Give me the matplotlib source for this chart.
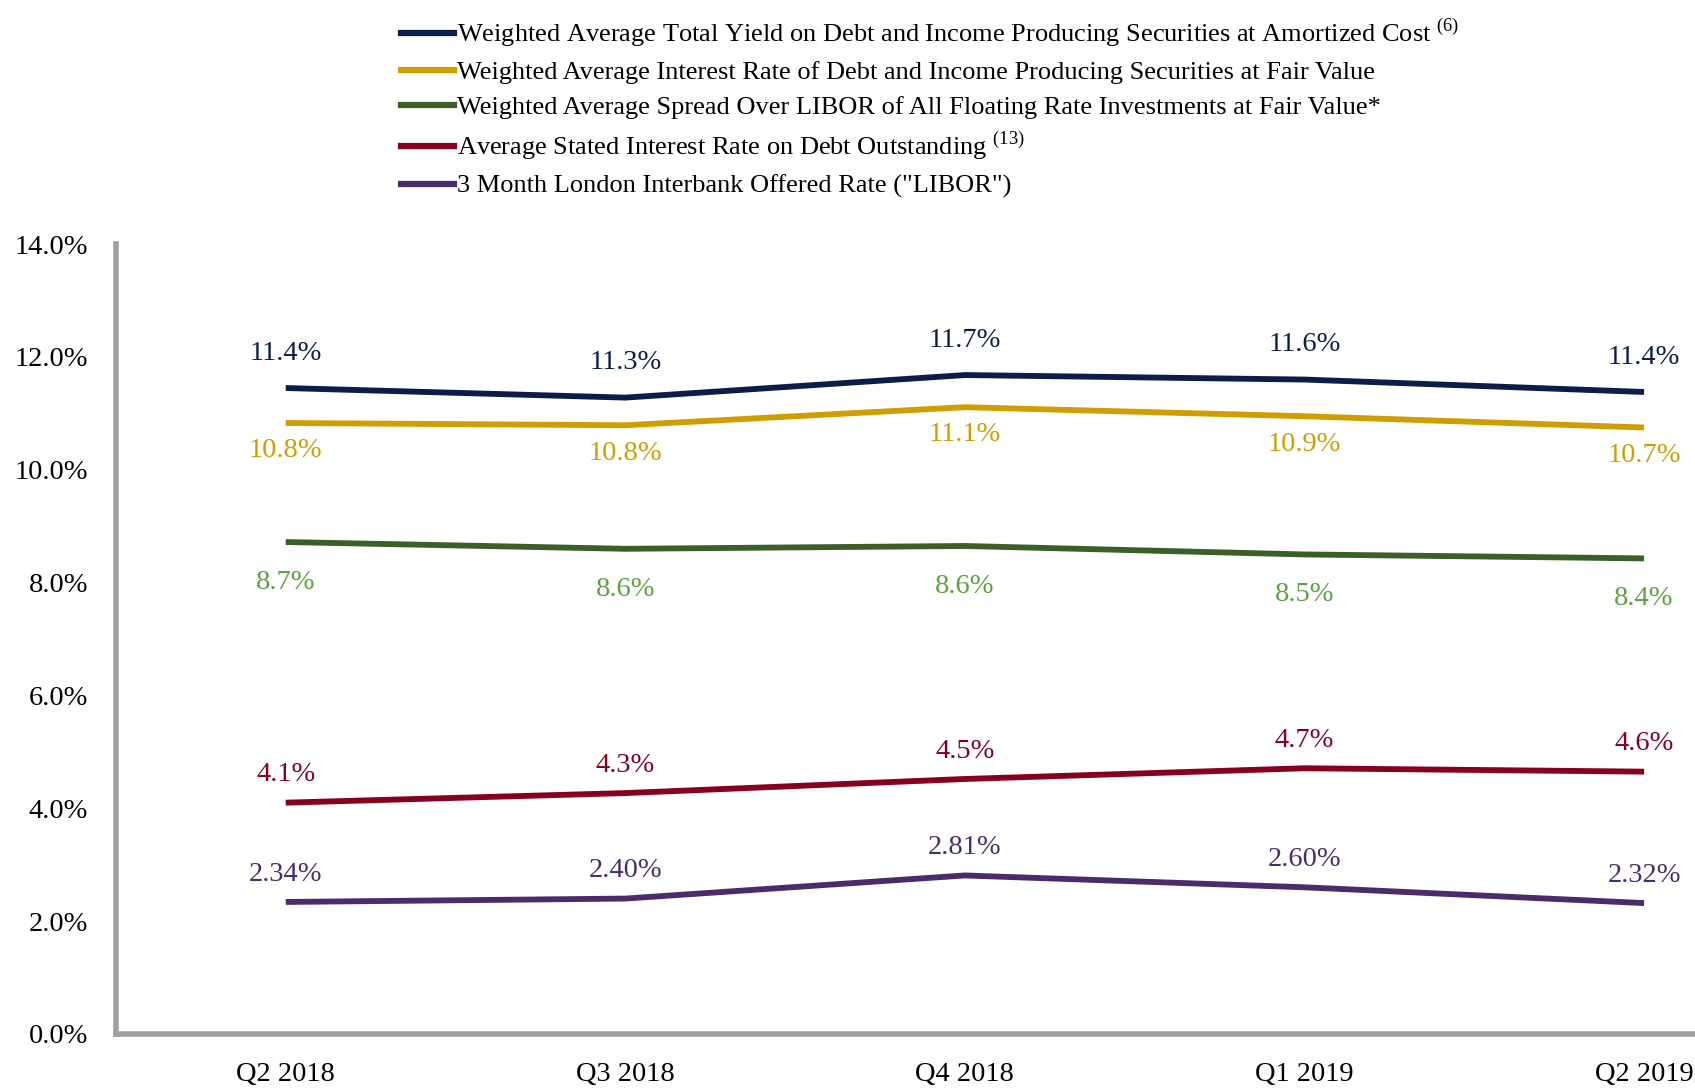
#!/usr/bin/env python3
"""Yield / rate trend chart, Q2 2018 - Q2 2019."""

import matplotlib
matplotlib.use('Agg')
import matplotlib.pyplot as plt
from matplotlib.lines import Line2D

plt.rcParams['font.family'] = ['Liberation Serif', 'DejaVu Serif']
plt.rcParams['mathtext.fontset'] = 'custom'
plt.rcParams['mathtext.rm'] = 'Liberation Serif'

# ── data ──────────────────────────────────────────────────────────────────
quarters = ['Q2 2018', 'Q3 2018', 'Q4 2018', 'Q1 2019', 'Q2 2019']

total_yield = [11.45, 11.28, 11.68, 11.60, 11.38]
fair_value_rate = [10.83, 10.79, 11.11, 10.95, 10.75]
libor_spread = [8.72, 8.60, 8.65, 8.50, 8.43]
debt_rate = [4.10, 4.27, 4.52, 4.71, 4.65]
libor = [2.34, 2.40, 2.81, 2.60, 2.32]

total_yield_lbl = ['11.4%', '11.3%', '11.7%', '11.6%', '11.4%']
fair_value_lbl = ['10.8%', '10.8%', '11.1%', '10.9%', '10.7%']
spread_lbl = ['8.7%', '8.6%', '8.6%', '8.5%', '8.4%']
debt_lbl = ['4.1%', '4.3%', '4.5%', '4.7%', '4.6%']
libor_lbl = ['2.34%', '2.40%', '2.81%', '2.60%', '2.32%']

legend_names = [
    'Weighted Average Total Yield on Debt and Income Producing Securities at Amortized Cost $^{(6)}$',
    'Weighted Average Interest Rate of Debt and Income Producing Securities at Fair Value',
    'Weighted Average Spread Over LIBOR of All Floating Rate Investments at Fair Value*',
    'Average Stated Interest Rate on Debt Outstanding $^{(13)}$',
    '3 Month London Interbank Offered Rate ("LIBOR")',
]

# line colour, label colour, label offset (pt)
SERIES = [
    (total_yield, total_yield_lbl, '#0B1D48', '#0B1D48', 25),
    (fair_value_rate, fair_value_lbl, '#D09E00', '#D09E00', -20),
    (libor_spread, spread_lbl, '#3A5F27', '#5EA142', -29),
    (debt_rate, debt_lbl, '#870020', '#870020', 20),
    (libor, libor_lbl, '#4A2C6C', '#4A2C6C', 20),
]

# ── figure ────────────────────────────────────────────────────────────────
fig = plt.figure(figsize=(16.95, 10.9), dpi=100)
ax = fig.add_axes([0.0684, 0.0514, 0.9316, 0.7246])

x = list(range(len(quarters)))
for vals, lbls, lc, tc, dy in SERIES:
    ax.plot(x, vals, color=lc, lw=4.2, solid_capstyle='butt', zorder=3)
    for xi, v, t in zip(x, vals, lbls):
        ax.annotate(t, xy=(xi, v), xytext=(0, dy), textcoords='offset points',
                    ha='center', va='center', fontsize=20.5, color=tc)

ax.set_xlim(-0.5, 4.15)
ax.set_ylim(0, 14)
ax.set_yticks([0, 2, 4, 6, 8, 10, 12, 14])
ax.set_yticklabels([f'{v:.1f}%' for v in [0, 2, 4, 6, 8, 10, 12, 14]])
ax.set_xticks(x)
ax.set_xticklabels(quarters)
ax.tick_params(axis='both', length=0, labelsize=20.5, colors='black')
ax.tick_params(axis='y', pad=20)
ax.tick_params(axis='x', pad=20)

for side in ['top', 'right']:
    ax.spines[side].set_visible(False)
for side in ['left', 'bottom']:
    ax.spines[side].set_color('#A0A0A0')
    ax.spines[side].set_linewidth(4)

handles = [Line2D([0], [0], color=s[2], lw=4.5) for s in SERIES]
fig.legend(handles, legend_names, loc='upper left', bbox_to_anchor=(0.2365, 0.985),
           frameon=False, fontsize=19, handlelength=2.0, handletextpad=0.12,
           labelspacing=0.42, borderaxespad=0, borderpad=0)

fig.savefig('out.png', dpi=100)
